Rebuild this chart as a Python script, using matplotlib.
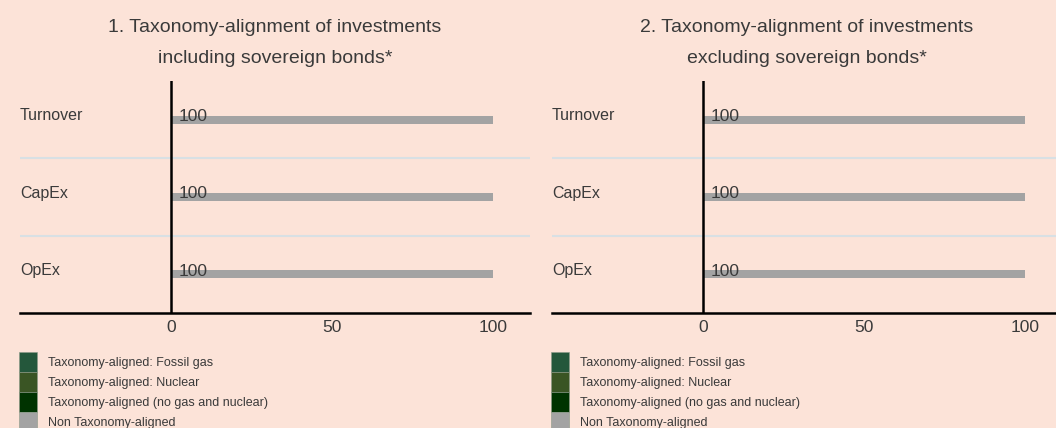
import matplotlib.pyplot as plt
from matplotlib.patches import Patch
from matplotlib.transforms import blended_transform_factory

categories = ['Turnover', 'CapEx', 'OpEx']
series_names = ['Taxonomy-aligned: Fossil gas',
                'Taxonomy-aligned: Nuclear',
                'Taxonomy-aligned (no gas and nuclear)',
                'Non Taxonomy-aligned']
series_colors = ['#24573b', '#3a5524', '#003300', '#a3a3a3']

# chart 1: including sovereign bonds
incl_fossil_gas = [0, 0, 0]
incl_nuclear = [0, 0, 0]
incl_aligned = [0, 0, 0]
incl_non_aligned = [100, 100, 100]

# chart 2: excluding sovereign bonds
excl_fossil_gas = [0, 0, 0]
excl_nuclear = [0, 0, 0]
excl_aligned = [0, 0, 0]
excl_non_aligned = [100, 100, 100]

titles = ['1. Taxonomy-alignment of investments\nincluding sovereign bonds*',
          '2. Taxonomy-alignment of investments\nexcluding sovereign bonds*']
x_ticks = [0, 50, 100]

BG = '#fce3d8'
TEXT = '#3a3a3a'
plt.rcParams['font.family'] = ['Liberation Sans', 'DejaVu Sans']

W, H = 1056, 428


def draw_panel(fig, left_px, series, title):
    ax = fig.add_axes([left_px / W, (H - 313) / H, 510 / W, 232 / H])
    ax.set_facecolor(BG)
    ax.set_xlim(-47, 111.5)
    ax.set_ylim(2.5, -0.5)
    y = list(range(len(categories)))
    left = [0] * len(categories)
    for values, color in zip(series, series_colors):
        ax.barh(y, values, left=left, height=0.1, color=color, zorder=2)
        left = [a + b for a, b in zip(left, values)]
    # total labels
    for i, total in enumerate(left):
        ax.text(2.2, i - 0.04, f'{total:g}', ha='left', va='center',
                fontsize=12.5, color=TEXT, zorder=3)
    # category labels at the left edge
    trans = blended_transform_factory(ax.transAxes, ax.transData)
    for i, cat in enumerate(categories):
        ax.text(0, i - 0.05, cat, transform=trans, ha='left', va='center',
                fontsize=11.5, color=TEXT)
    for sep in [0.5, 1.5]:
        ax.axhline(sep, color='#d8e0e4', lw=1.5, zorder=1)
    ax.axvline(0, color='black', lw=1.8, zorder=4)
    for s in ['top', 'right', 'left']:
        ax.spines[s].set_visible(False)
    ax.spines['bottom'].set_linewidth(1.8)
    ax.set_yticks([])
    ax.set_xticks(x_ticks)
    ax.tick_params(axis='x', length=0, pad=5, labelsize=12.5, labelcolor=TEXT)
    ax.set_title(title, fontsize=14, color=TEXT, linespacing=2.05, pad=13)

    handles = [Patch(facecolor=c, edgecolor='#8a9a88', lw=0.4) for c in series_colors]
    fig.legend(handles, series_names, loc='upper left',
               bbox_to_anchor=((left_px - 11) / W, (H - 342) / H),
               frameon=False, fontsize=9, labelspacing=0, handlelength=1.45,
               handleheight=2.08, handletextpad=0.9, borderpad=0.3,
               labelcolor=TEXT)
    return ax


fig = plt.figure(figsize=(W / 100, H / 100), dpi=100, facecolor=BG)
draw_panel(fig, 20, [incl_fossil_gas, incl_nuclear, incl_aligned, incl_non_aligned], titles[0])
draw_panel(fig, 552, [excl_fossil_gas, excl_nuclear, excl_aligned, excl_non_aligned], titles[1])

fig.savefig('out.png', dpi=100, facecolor=BG)
